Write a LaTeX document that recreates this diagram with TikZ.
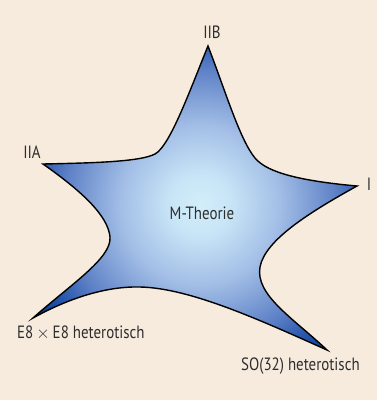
\documentclass[tikz,border=0pt]{standalone}
\usepackage{fontspec}
\setmainfont[FakeStretch=0.84]{PT Sans}
\definecolor{bgbeige}{HTML}{F6EBDD}
\definecolor{txtgray}{HTML}{2E2E2E}
\definecolor{sc0}{HTML}{D3EEFA}
\definecolor{sc1}{HTML}{C8E5F7}
\definecolor{sc2}{HTML}{A2BEE6}
\definecolor{sc3}{HTML}{5F82C7}
\definecolor{sc4}{HTML}{2A58AC}
\definecolor{sc5}{HTML}{0B4098}
\pgfdeclareradialshading{mstar}{\pgfpoint{0bp}{0bp}}{%
  color(0bp)=(sc0); color(3bp)=(sc1); color(8bp)=(sc2);
  color(13.5bp)=(sc3); color(16.5bp)=(sc4); color(19bp)=(sc5); color(50bp)=(sc5)}
\tikzset{
  lbl/.style={text=txtgray, font=\fontsize{17.8}{20}\selectfont, inner sep=0pt},
  staroutline/.style={draw=black, line width=1.4pt}
}
\begin{document}
\begin{tikzpicture}[x=1pt,y=-1pt]
\fill[bgbeige] (0,0) rectangle (377,400);
\useasboundingbox (0,0) rectangle (377,400);
\coordinate (tB) at (208,46);
\coordinate (tI) at (357,186);
\coordinate (tSO) at (327,350);
\coordinate (tE) at (33,318);
\coordinate (tA) at (43,164);
\def\starpath{(tB) .. controls (225,90) and (240,140) .. (255,158)
  .. controls (265,170) and (290,180) .. (tI)
  .. controls (310,212) and (265,240) .. (260,267)
  .. controls (255,295) and (293,318) .. (tSO)
  .. controls (260,320) and (190,288) .. (140,287)
  .. controls (100,286) and (60,303) .. (tE)
  .. controls (70,285) and (112,258) .. (110,237)
  .. controls (108,215) and (80,190) .. (tA)
  .. controls (90,163) and (140,162) .. (155,154)
  .. controls (170,146) and (190,90) .. (tB) -- cycle}
\begin{scope}
  \clip \starpath;
  \shade[shading=mstar] (-50,-45) rectangle (450,455);
\end{scope}
\draw[staroutline] \starpath;
\node[lbl] (lB) at (212,32) {IIB};
\node[lbl] (lA) at (32,152) {IIA};
\node[lbl] (lI) at (369,184) {I};
\node[lbl] (lM) at (202,213) {M-Theorie};
\node[lbl, anchor=west] (lE) at (17,333) {E8\,$\times$\,E8 heterotisch};
\node[lbl, anchor=west] (lSO) at (241,366) {SO(32) heterotisch};
\end{tikzpicture}
\end{document}
